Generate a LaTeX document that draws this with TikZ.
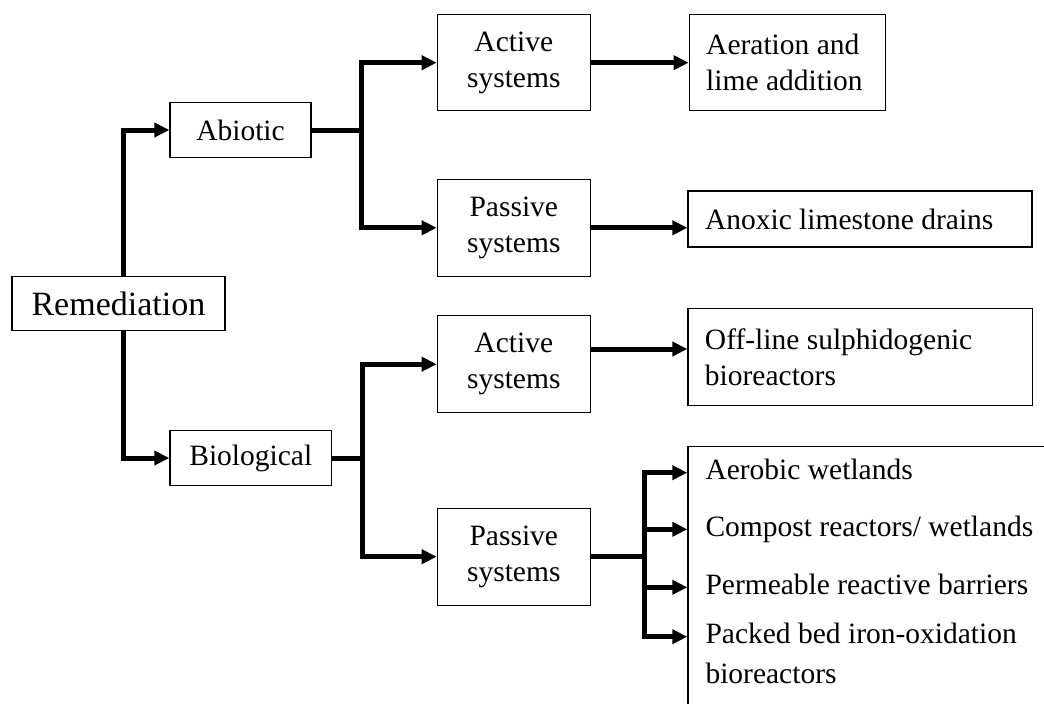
\documentclass[tikz,border=0pt]{standalone}
\usepackage{fontspec}
\setmainfont{Liberation Serif}
\usetikzlibrary{arrows.meta,positioning}

\begin{document}
\begin{tikzpicture}[x=1pt, y=-1pt, >={Triangle[length=15pt,width=14pt]},
        every node/.style={font=\fontsize{29.5}{36}\selectfont},
        box/.style={draw, line width=1.2pt, inner sep=0pt, align=center},
        lbox/.style={box, align=flush left, inner xsep=17pt},
        item/.style={anchor=west, inner xsep=18pt, inner ysep=0pt, text height=21pt, text depth=7pt},
        link/.style={line width=5pt}]
        \clip (0,0) rectangle (1044,704);

                \node[box, minimum width=213pt, minimum height=54pt, font=\fontsize{34}{40}\selectfont] (rem) at (118.4,303.7) {Remediation};
                \node[box, minimum width=141pt, minimum height=54.6pt]   (abio)  at (240.5,130)   {Abiotic};
                \node[box, minimum width=161.7pt, minimum height=54.6pt] (bio)   at (250.8,458)   {Biological};
                \node[box, minimum width=153pt, minimum height=96pt]     (act_1) at (513.8,62.7)  {Active\\systems};
                \node[box, minimum width=153pt, minimum height=97pt]     (pas_1) at (513.8,227.8) {Passive\\systems};
                \node[box, minimum width=153pt, minimum height=97pt]     (act_2) at (513.8,364.2) {Active\\systems};
                \node[box, minimum width=153pt, minimum height=97pt]     (pas_2) at (513.8,556.7) {Passive\\systems};
                \node[lbox, text width=162pt, minimum height=96pt]       (aer)   [right=97.7pt of act_1] {Aeration and\\lime addition};
                \node[lbox, text width=310pt, minimum height=56pt]       (anox)  at (860,219)     {Anoxic limestone drains};
                \node[lbox, text width=310.7pt, minimum height=97.4pt]   (offl)  at (860.3,357)   {Off-line sulphidogenic\\bioreactors};

                % open box of the passive biological options
                \node[box, anchor=north west, minimum width=420pt, minimum height=300pt] (grp) at (687.3,445.7) {};
                \node[item] (aw) at (687.3,472.7) {Aerobic wetlands};
                \node[item] (cr) at (687.3,529.3) {Compost reactors/ wetlands};
                \node[item] (pr) at (687.3,587.3) {Permeable reactive barriers};
                \node[anchor=north west, inner xsep=18pt, inner ysep=0pt, align=flush left] (pb) at (687.3,623.2) {Packed bed iron-oxidation\\[4pt]bioreactors};

                \coordinate (br_a) at ([xshift=50pt]abio.east);
                \coordinate (br_b) at ([xshift=30pt]bio.east);
                \coordinate (br_c) at ([xshift=54pt]pas_2.east);
                \coordinate (offin) at ([yshift=8pt]offl.west);
                \coordinate (pbin) at ([yshift=-13.5pt]pb.north west);

            \draw[link,->] ([xshift=5pt]rem.north) |- (abio.west);
            \draw[link,->] ([xshift=5pt]rem.south) |- (bio.west);
            \draw[link,->] (abio.east) -- (br_a) |- (act_1.west);
            \draw[link,->] (br_a) |- (pas_1.west);
            \draw[link,->] (bio.east) -- (br_b) |- (act_2.west);
            \draw[link,->] (br_b) |- (pas_2.west);
            \draw[link,->] (act_1) -- (aer);
            \draw[link,->] (pas_1.east) -- (pas_1.east -| anox.west);
            \draw[link,->] (act_2.east |- offin) -- (offin);
            \draw[link]    (pas_2.east) -- (br_c);
            \draw[link,->] (br_c) |- (aw.west);
            \draw[link,->] (br_c) |- (cr.west);
            \draw[link,->] (br_c) |- (pr.west);
            \draw[link,->] (br_c) |- (pbin);
\end{tikzpicture}
\end{document}
